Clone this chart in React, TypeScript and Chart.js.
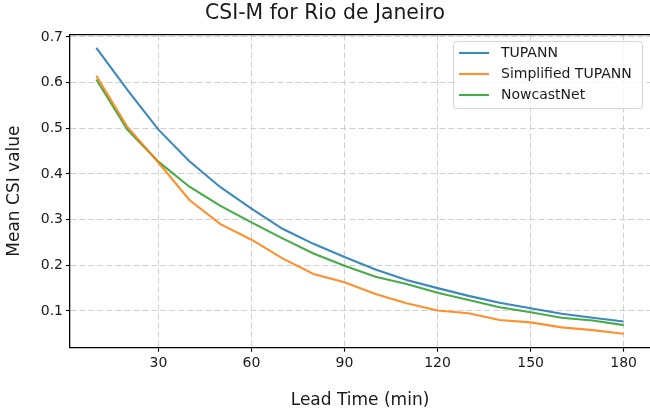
import React, { useEffect, useRef } from "react";
import { Chart, registerables } from "chart.js";

Chart.register(...registerables);

const leadTimes = [10, 20, 30, 40, 50, 60, 70, 80, 90, 100, 110, 120, 130, 140, 150, 160, 170, 180];
const tupann = [0.676, 0.584, 0.497, 0.428, 0.371, 0.324, 0.280, 0.247, 0.218, 0.191, 0.168, 0.150, 0.133, 0.118, 0.106, 0.094, 0.085, 0.077];
const simplifiedTupann = [0.615, 0.503, 0.425, 0.343, 0.290, 0.256, 0.215, 0.181, 0.163, 0.137, 0.117, 0.101, 0.095, 0.080, 0.075, 0.064, 0.058, 0.050];
const nowcastNet = [0.607, 0.497, 0.427, 0.372, 0.330, 0.294, 0.259, 0.226, 0.199, 0.175, 0.159, 0.140, 0.124, 0.108, 0.097, 0.085, 0.079, 0.069];
const seriesLabels = ["TUPANN", "Simplified TUPANN", "NowcastNet"];
const xTicks = [30, 60, 90, 120, 150, 180];
const yTicks = [0.1, 0.2, 0.3, 0.4, 0.5, 0.6, 0.7];

const FONT = "'DejaVu Sans', 'Liberation Sans', sans-serif";
const COLORS = ["rgba(31,119,180,0.87)", "rgba(255,127,14,0.87)", "rgba(44,160,44,0.87)"];

const insideLegend = {
  id: "insideLegend",
  afterDatasetsDraw(chart: any) {
    const ctx = chart.ctx;
    const x0 = 453.5, y0 = 41.5, w = 189, h = 67, r = 3;
    ctx.save();
    ctx.setLineDash([]);
    ctx.beginPath();
    ctx.moveTo(x0 + r, y0);
    ctx.lineTo(x0 + w - r, y0);
    ctx.arcTo(x0 + w, y0, x0 + w, y0 + r, r);
    ctx.lineTo(x0 + w, y0 + h - r);
    ctx.arcTo(x0 + w, y0 + h, x0 + w - r, y0 + h, r);
    ctx.lineTo(x0 + r, y0 + h);
    ctx.arcTo(x0, y0 + h, x0, y0 + h - r, r);
    ctx.lineTo(x0, y0 + r);
    ctx.arcTo(x0, y0, x0 + r, y0, r);
    ctx.closePath();
    ctx.fillStyle = "rgba(255,255,255,0.8)";
    ctx.fill();
    ctx.strokeStyle = "#d4d4d4";
    ctx.lineWidth = 1;
    ctx.stroke();
    const rows = [53, 74, 95];
    chart.data.datasets.forEach((ds: any, i: number) => {
      const y = rows[i];
      ctx.beginPath();
      ctx.strokeStyle = ds.borderColor;
      ctx.lineWidth = 2.1;
      ctx.moveTo(459, y);
      ctx.lineTo(489, y);
      ctx.stroke();
      ctx.fillStyle = "#1a1a1a";
      ctx.font = `14px ${FONT}`;
      ctx.textBaseline = "middle";
      ctx.textAlign = "left";
      ctx.fillText(ds.label, 501, y);
    });
    ctx.restore();
  },
};

const gridOpts = {
  color: "#d0d0d0",
  lineWidth: 1,
  tickColor: "#000",
  tickLength: 4,
  tickWidth: 1.1,
  tickBorderDash: [],
};

export default function App() {
  const ref = useRef<HTMLCanvasElement | null>(null);
  useEffect(() => {
    if (!ref.current) return;
    Chart.defaults.font.family = FONT;
    const series = [tupann, simplifiedTupann, nowcastNet];
    const chart = new Chart(ref.current, {
      type: "line",
      data: {
        datasets: series.map((vals, i) => ({
          label: seriesLabels[i],
          data: leadTimes.map((t, j) => ({ x: t, y: vals[j] })),
          borderColor: COLORS[i],
          backgroundColor: COLORS[i],
          borderWidth: 2.1,
          pointRadius: 0,
          tension: 0,
          fill: false,
        })),
      },
      options: {
        animation: false,
        responsive: false,
        layout: { padding: { left: 0, right: 0, top: 0, bottom: 0 } },
        plugins: {
          legend: { display: false },
          tooltip: { enabled: false },
          title: {
            display: true,
            text: "CSI-M for Rio de Janeiro",
            color: "#1a1a1a",
            font: { size: 20.4, weight: "normal", lineHeight: 1.2 },
            padding: { top: 1.5, bottom: 8.5 },
          },
        },
        scales: {
          x: {
            type: "linear",
            position: "bottom",
            min: 1.5,
            max: 188.5,
            afterBuildTicks: (s: any) => { s.ticks = xTicks.map((v) => ({ value: v })); },
            afterFit: (s: any) => { s.height = 61.3; },
            ticks: { color: "#1a1a1a", font: { size: 14, lineHeight: 1.2 }, padding: 3, maxRotation: 0 },
            grid: gridOpts,
            border: { display: true, color: "#000", width: 1.3, dash: [6, 3] },
            title: {
              display: true,
              text: "Lead Time (min)",
              color: "#1a1a1a",
              font: { size: 17, lineHeight: 1 },
              padding: { top: 0, bottom: 0 },
            },
          },
          x2: {
            type: "linear",
            position: "top",
            min: 0,
            max: 1,
            afterFit: (s: any) => { s.height = 0; },
            ticks: { display: false },
            grid: { display: false },
            border: { display: true, color: "#000", width: 1.3 },
          },
          y: {
            type: "linear",
            position: "left",
            min: 0.0195,
            max: 0.7055,
            afterBuildTicks: (s: any) => { s.ticks = yTicks.map((v) => ({ value: v })); },
            afterFit: (s: any) => { s.width = 70; },
            ticks: {
              color: "#1a1a1a",
              font: { size: 14, lineHeight: 1.2 },
              padding: 3,
              callback: (v: any) => Number(v).toFixed(1),
            },
            grid: gridOpts,
            border: { display: true, color: "#000", width: 1.3, dash: [6, 3] },
            title: {
              display: true,
              text: "Mean CSI value",
              color: "#1a1a1a",
              font: { size: 17, lineHeight: 1 },
              padding: { top: 6, bottom: 0 },
            },
          },
        },
      },
      plugins: [insideLegend],
    } as any);
    return () => chart.destroy();
  }, []);
  return (
    <div style={{ position: "absolute", left: 0, top: 0, width: 650, height: 409, background: "#fff" }}>
      <canvas ref={ref} width={650} height={409} style={{ display: "block", width: 650, height: 409 }} />
    </div>
  );
}
